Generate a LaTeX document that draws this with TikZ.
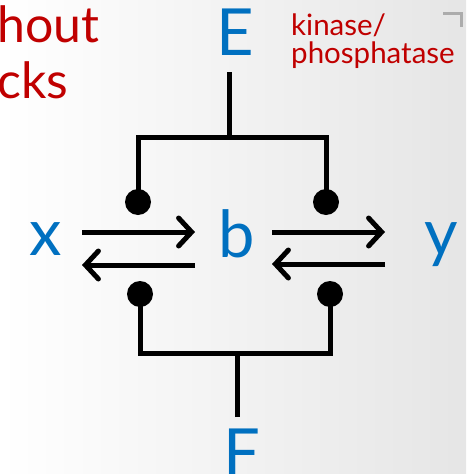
\documentclass[tikz,border=0pt]{standalone}
\usepackage{fontspec}
\setmainfont{Lato}
\usetikzlibrary{arrows.meta}
\definecolor{sblue}{HTML}{0070C0}
\definecolor{sred}{HTML}{C00000}
\tikzset{
  species/.style={text=sblue, font=\fontsize{65}{65}\selectfont, inner sep=0pt, anchor=base},
  redtxt/.style={text=sred, inner sep=0pt, anchor=base west},
  wire/.style={line width=5pt, black},
  react/.style={line width=5pt, black, -{Straight Barb[length=13pt,width=28pt,line cap=round]}},
  dot/.style={circle, fill=black, inner sep=0pt, minimum size=26pt}
}
\begin{document}
\begin{tikzpicture}[x=1pt,y=-1pt]
\useasboundingbox (0,0) rectangle (466,474);
\shade[left color=white, right color=gray!20] (0,0) rectangle (466,474);
% titles
\node[redtxt, font=\fontsize{50}{50}\selectfont] (t1) at (-3,42) {hout};
\node[redtxt, font=\fontsize{50}{50}\selectfont] (t2) at (-3,98) {cks};
\node[redtxt, font=\fontsize{29.5}{29.5}\selectfont] (k1) at (291,35) {kinase/};
\node[redtxt, font=\fontsize{29.5}{29.5}\selectfont] (k2) at (291,63) {phosphatase};
\draw[gray!65, line width=3pt] (443,13) -- (461,13) -- (461,27);
% species
\node[species] (E) at (235,55) {E};
\node[species] (x) at (46,255) {x};
\node[species] (b) at (237,257) {b};
\node[species] (y) at (441,255) {y};
\node[species] (F) at (242,475) {F};
% arrow endpoints
\coordinate (xb1) at (82,232);  \coordinate (xb2) at (195,232);
\coordinate (bx1) at (195,265); \coordinate (bx2) at (82,265);
\coordinate (by1) at (272,232); \coordinate (by2) at (385,232);
\coordinate (yb1) at (385,264); \coordinate (yb2) at (272,264);
\draw[react] (xb1) -- (xb2);
\draw[react] (bx1) -- (bx2);
\draw[react] (by1) -- (by2);
\draw[react] (yb1) -- (yb2);
% E modifier
\coordinate (Etop) at (229,72);
\coordinate (Ejoin) at (229,137);
\node[dot] (d1) at (138,202) {};
\node[dot] (d2) at (326,202) {};
\draw[wire] (d1.center) |- (Ejoin) -| (d2.center);
\draw[wire] (Etop) -- (Ejoin);
% F modifier
\coordinate (Fbot) at (237,417);
\coordinate (Fjoin) at (237,353);
\node[dot] (d3) at (140,294) {};
\node[dot] (d4) at (330,294) {};
\draw[wire] (d3.center) |- (Fjoin) -| (d4.center);
\draw[wire] (Fbot) -- (Fjoin);
\end{tikzpicture}
\end{document}
